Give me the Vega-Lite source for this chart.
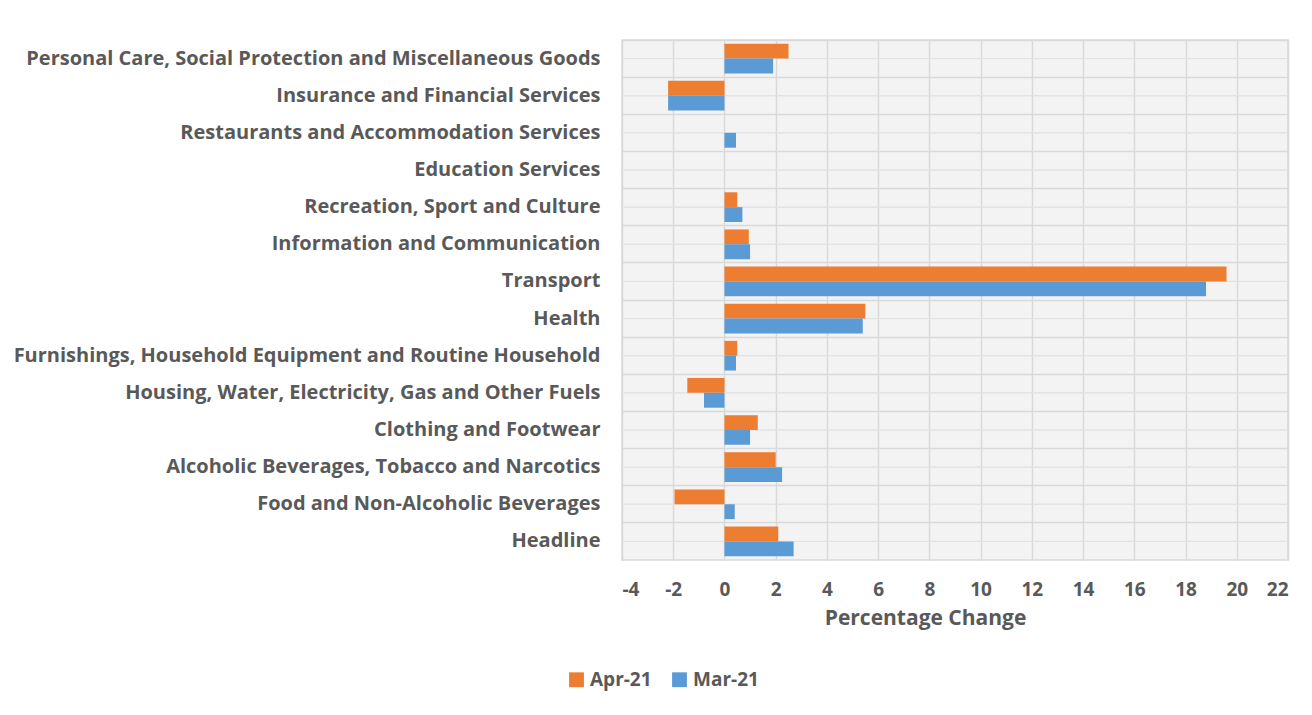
{
  "$schema": "https://vega.github.io/schema/vega-lite/v6.json",
  "autosize": "none",
  "width": 666,
  "height": 520,
  "padding": {"left": 622, "top": 40, "right": 24, "bottom": 155},
  "background": "white",
  "data": {"values": [
    {"cat": "Personal Care, Social Protection and Miscellaneous Goods", "period": "Apr-21", "value": 2.5},
    {"cat": "Personal Care, Social Protection and Miscellaneous Goods", "period": "Mar-21", "value": 1.9},
    {"cat": "Insurance and Financial Services", "period": "Apr-21", "value": -2.2},
    {"cat": "Insurance and Financial Services", "period": "Mar-21", "value": -2.2},
    {"cat": "Restaurants and Accommodation Services", "period": "Apr-21", "value": 0},
    {"cat": "Restaurants and Accommodation Services", "period": "Mar-21", "value": 0.45},
    {"cat": "Education Services", "period": "Apr-21", "value": 0},
    {"cat": "Education Services", "period": "Mar-21", "value": 0},
    {"cat": "Recreation, Sport and Culture", "period": "Apr-21", "value": 0.5},
    {"cat": "Recreation, Sport and Culture", "period": "Mar-21", "value": 0.7},
    {"cat": "Information and Communication", "period": "Apr-21", "value": 0.95},
    {"cat": "Information and Communication", "period": "Mar-21", "value": 1.0},
    {"cat": "Transport", "period": "Apr-21", "value": 19.6},
    {"cat": "Transport", "period": "Mar-21", "value": 18.8},
    {"cat": "Health", "period": "Apr-21", "value": 5.5},
    {"cat": "Health", "period": "Mar-21", "value": 5.4},
    {"cat": "Furnishings, Household Equipment and Routine Household", "period": "Apr-21", "value": 0.5},
    {"cat": "Furnishings, Household Equipment and Routine Household", "period": "Mar-21", "value": 0.45},
    {"cat": "Housing, Water, Electricity, Gas and Other Fuels", "period": "Apr-21", "value": -1.45},
    {"cat": "Housing, Water, Electricity, Gas and Other Fuels", "period": "Mar-21", "value": -0.8},
    {"cat": "Clothing and Footwear", "period": "Apr-21", "value": 1.3},
    {"cat": "Clothing and Footwear", "period": "Mar-21", "value": 1.0},
    {"cat": "Alcoholic Beverages, Tobacco and Narcotics", "period": "Apr-21", "value": 2.0},
    {"cat": "Alcoholic Beverages, Tobacco and Narcotics", "period": "Mar-21", "value": 2.25},
    {"cat": "Food and Non-Alcoholic Beverages", "period": "Apr-21", "value": -1.95},
    {"cat": "Food and Non-Alcoholic Beverages", "period": "Mar-21", "value": 0.4},
    {"cat": "Headline", "period": "Apr-21", "value": 2.1},
    {"cat": "Headline", "period": "Mar-21", "value": 2.7}
  ]},
  "encoding": {
    "y": {
      "field": "cat", "type": "nominal", "sort": null,
      "scale": {"paddingInner": 0, "paddingOuter": 0},
      "axis": {
        "title": null, "grid": true, "bandPosition": 0, "gridColor": "#d9d9d9", "gridWidth": 1.5,
        "domain": false, "ticks": false, "labelPadding": 22, "labelLimit": 700,
        "labelFont": "Open Sans", "labelFontWeight": "bold", "labelFontSize": 20, "labelColor": "#595959"
      }
    }
  },
  "layer": [
    {
      "mark": {"type": "rule", "color": "#e2e2e2", "strokeWidth": 1},
      "encoding": {}
    },
    {
      "mark": {"type": "bar"},
      "encoding": {
        "yOffset": {"field": "period", "type": "nominal", "sort": ["Apr-21", "Mar-21"], "scale": {"paddingOuter": 0.25, "paddingInner": 0}},
        "x": {
          "field": "value", "type": "quantitative",
          "scale": {"domain": [-4, 22], "nice": false, "zero": false},
          "axis": {
            "title": "Percentage Change", "values": [-4,-2,0,2,4,6,8,10,12,14,16,18,20,22],
            "labelExpr": "replace(datum.label, '\u2212', '-')",
            "grid": true, "gridColor": "#d9d9d9", "gridWidth": 1.5, "domain": false, "ticks": false,
            "labelPadding": 20, "labelFont": "Open Sans", "labelFontWeight": "bold", "labelFontSize": 19, "labelColor": "#595959",
            "titleFont": "Open Sans", "titleFontWeight": "bold", "titleFontSize": 21, "titleColor": "#595959", "titlePadding": 8,
            "titleX": 303
          }
        },
        "color": {
          "field": "period", "type": "nominal",
          "scale": {"domain": ["Apr-21", "Mar-21"], "range": ["#ed7d31", "#5b9bd5"]},
          "legend": {
            "title": null, "orient": "none", "direction": "horizontal", "legendX": -55, "legendY": 630,
            "symbolType": "square", "symbolSize": 220, "symbolOpacity": 1, "symbolStrokeWidth": 0,
            "labelFont": "Open Sans", "labelFontWeight": "bold", "labelFontSize": 19, "labelColor": "#595959", "columnPadding": 18
          }
        }
      }
    }
  ],
  "config": {
    "view": {"fill": "#f3f3f3", "stroke": "#d9d9d9", "strokeWidth": 1.5}
  }
}
